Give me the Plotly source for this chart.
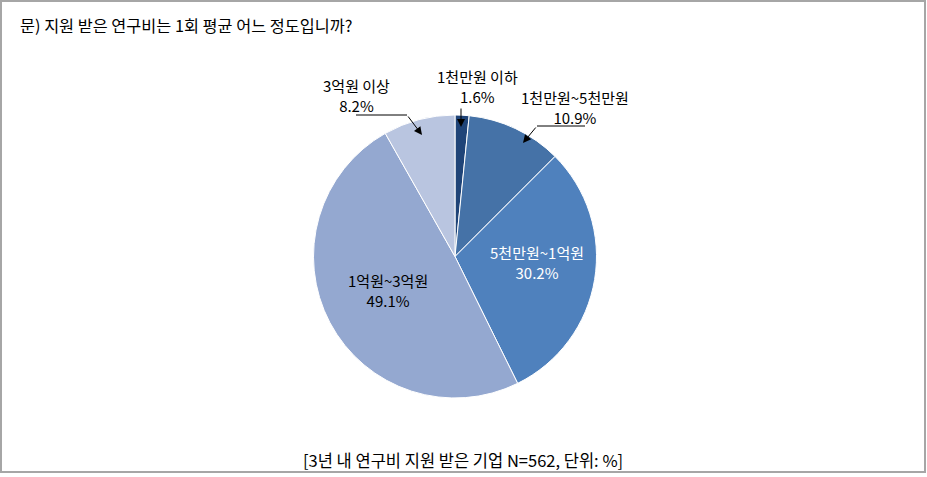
import plotly.graph_objects as go

categories = ["1천만원 이하", "1천만원~5천만원", "5천만원~1억원", "1억원~3억원", "3억원 이상"]
values = [1.6, 10.9, 30.2, 49.1, 8.2]
colors = ["#1F4478", "#4572A7", "#4F81BD", "#94A8D0", "#B9C5E0"]

title_text = "문) 지원 받은 연구비는 1회 평균 어느 정도입니까?"
note_text = "[3년 내 연구비 지원 받은 기업 N=562, 단위: %]"

W, H = 927, 477
FONT = "Noto Sans CJK KR, Noto Sans, sans-serif"

def px(x):
    return x / W

def py(y):
    return 1 - y / H

# pie geometry (pixels)
cx, cy, R = 455, 256.5, 141.5

fig = go.Figure()
fig.add_trace(go.Pie(
    labels=categories,
    values=values,
    sort=False,
    direction="clockwise",
    rotation=0,
    marker=dict(colors=colors, line=dict(color="white", width=1)),
    textinfo="none",
    hoverinfo="label+percent",
    showlegend=False,
    domain=dict(x=[px(cx - R), px(cx + R)], y=[py(cy + R), py(cy - R)]),
))

# label layout: text center (px), font colour, optional leader (segment x0,x1,y ; arrow tip)
label_layout = {
    "1천만원 이하": dict(tx=477, ty=87, color="black",
                     seg=None, tail=(461, 107), tip=(461, 127)),
    "1천만원~5천만원": dict(tx=575, ty=108, color="black",
                       seg=(537, 585, 126), tail=(537, 126), tip=(523, 143)),
    "5천만원~1억원": dict(tx=537, ty=262, color="white", seg=None, tail=None, tip=None),
    "1억원~3억원": dict(tx=388, ty=290, color="black", seg=None, tail=None, tip=None),
    "3억원 이상": dict(tx=356, ty=96, color="black",
                   seg=(356, 407, 115), tail=(407, 115), tip=(422, 135)),
}

annotations = []
shapes = []
for cat, val in zip(categories, values):
    L = label_layout[cat]
    annotations.append(dict(
        x=px(L["tx"]), y=py(L["ty"]), xref="paper", yref="paper",
        text=f"{cat}<br>{val:.1f}%", showarrow=False,
        font=dict(family=FONT, size=15, color=L["color"]),
        xanchor="center", yanchor="middle", align="center",
    ))
    if L["seg"]:
        x0, x1, yy = L["seg"]
        shapes.append(dict(type="line", xref="paper", yref="paper",
                           x0=px(x0), x1=px(x1), y0=py(yy), y1=py(yy),
                           line=dict(color="black", width=1)))
    if L["tip"]:
        tx, ty = L["tip"]
        ax, ay = L["tail"]
        annotations.append(dict(
            x=px(tx), y=py(ty), xref="paper", yref="paper",
            text="", showarrow=True, arrowhead=2, arrowsize=1.6, arrowwidth=1,
            arrowcolor="black", ax=ax - tx, ay=ay - ty, standoff=0,
        ))

annotations.append(dict(
    x=px(18), y=py(25), xref="paper", yref="paper", text=title_text,
    showarrow=False, xanchor="left", yanchor="middle",
    font=dict(family=FONT, size=16.3, color="black"),
))
annotations.append(dict(
    x=px(463), y=py(460), xref="paper", yref="paper", text=note_text,
    showarrow=False, xanchor="center", yanchor="middle",
    font=dict(family=FONT, size=16.5, color="black"),
))

shapes.append(dict(type="rect", xref="paper", yref="paper",
                   x0=px(1), x1=px(925), y0=py(1), y1=py(472),
                   line=dict(color="#A6A6A6", width=2)))

fig.update_layout(
    width=W, height=H,
    margin=dict(l=0, r=0, t=0, b=0),
    paper_bgcolor="white", plot_bgcolor="white",
    annotations=annotations, shapes=shapes,
    font=dict(family=FONT),
)

fig.write_html("out.html")
